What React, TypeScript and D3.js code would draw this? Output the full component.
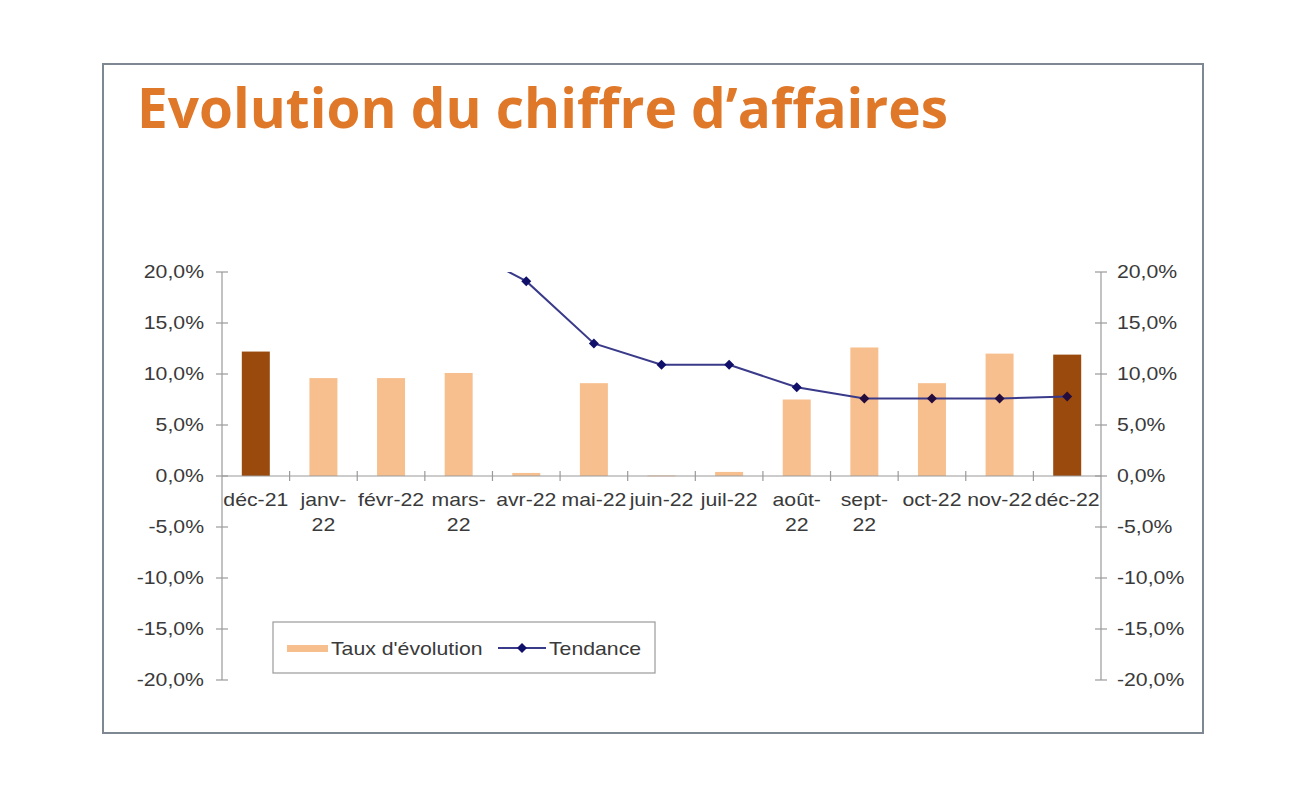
import React from "react";
import * as d3 from "d3";

const categories = ["déc-21", "janv-22", "févr-22", "mars-22", "avr-22", "mai-22", "juin-22", "juil-22", "août-22", "sept-22", "oct-22", "nov-22", "déc-22"];
const labelLines = [["déc-21"], ["janv-", "22"], ["févr-22"], ["mars-", "22"], ["avr-22"], ["mai-22"], ["juin-22"], ["juil-22"], ["août-", "22"], ["sept-", "22"], ["oct-22"], ["nov-22"], ["déc-22"]];
const taux = [12.2, 9.6, 9.6, 10.1, 0.3, 9.1, 0.05, 0.4, 7.5, 12.6, 9.1, 12.0, 11.9];
const highlighted = [true, false, false, false, false, false, false, false, false, false, false, false, true];
const tendance: (number | null)[] = [null, null, null, 22.6, 19.1, 13.0, 10.9, 10.9, 8.7, 7.6, 7.6, 7.6, 7.8];
const markerShown = [false, false, false, false, true, true, true, true, true, true, true, true, true];
const yTicks = [20, 15, 10, 5, 0, -5, -10, -15, -20];

const fmt = (v: number) => v.toFixed(1).replace(".", ",") + "%";

const font = "'Liberation Sans', Arial, sans-serif";
const textColor = "#3a3a3a";
const SX = 1.18;

function SText({ x, y, anchor = "start", size = 18, children }: { x: number; y: number; anchor?: string; size?: number; children: React.ReactNode }) {
  return (
    <g transform={`translate(${x},${y}) scale(${SX},1)`}>
      <text x={0} y={0} textAnchor={anchor as any} fontFamily={font} fontSize={size} fill={textColor}>
        {children}
      </text>
    </g>
  );
}

function Diamond({ cx, cy, r, fill }: { cx: number; cy: number; r: number; fill: string }) {
  return <path d={`M${cx},${cy - r}L${cx + r},${cy}L${cx},${cy + r}L${cx - r},${cy}Z`} fill={fill} />;
}

export default function App() {
  const W = 1300, H = 800;
  const x0 = 222, x1 = 1101;
  const x = d3.scaleBand<string>().domain(categories).range([x0, x1]).paddingInner(0).paddingOuter(0);
  const y = d3.scaleLinear().domain([-20, 20]).range([680, 272]);
  const bw = 28;
  const line = d3
    .line<number | null>()
    .defined((d) => d !== null)
    .x((_, i) => (x(categories[i]) as number) + x.bandwidth() / 2)
    .y((d) => y(d as number));
  const axisColor = "#9a9a9a";
  const lineColor = "#3A3A8A";

  return (
    <svg width={W} height={H} style={{ position: "absolute", left: 0, top: 0, background: "#fff" }}>
      <defs>
        <clipPath id="plotClip">
          <rect x={x0} y={y(20)} width={x1 - x0} height={y(-20) - y(20)} />
        </clipPath>
      </defs>
      <rect x={0} y={0} width={W} height={H} fill="#fff" />
      <rect x={103} y={64} width={1100} height={669} fill="none" stroke="#7d8893" strokeWidth={2} />
      <text x={137} y={128} fill="#E0782A" fontFamily="'Open Sans', Lato, sans-serif" fontWeight={700} fontSize={56} textLength={811} lengthAdjust="spacingAndGlyphs">
        Evolution du chiffre d’affaires
      </text>

      {/* bars */}
      {taux.map((v, i) => {
        const cx = (x(categories[i]) as number) + x.bandwidth() / 2;
        const top = y(Math.max(v, 0));
        const bot = y(Math.min(v, 0));
        return (
          <rect key={i} x={cx - bw / 2} y={top} width={bw} height={Math.max(bot - top, 0.8)} fill={highlighted[i] ? "#9A4A0C" : "#F8BF8E"} />
        );
      })}

      {/* left axis */}
      <line x1={x0} x2={x0} y1={y(20)} y2={y(-20)} stroke={axisColor} strokeWidth={1.2} />
      {yTicks.map((t) => (
        <g key={"l" + t}>
          <line x1={x0 - 6} x2={x0 + 6} y1={y(t)} y2={y(t)} stroke={axisColor} strokeWidth={1.2} />
          <SText x={204} y={y(t) + 6} anchor="end">{fmt(t)}</SText>
        </g>
      ))}
      {/* right axis */}
      <line x1={x1} x2={x1} y1={y(20)} y2={y(-20)} stroke={axisColor} strokeWidth={1.2} />
      {yTicks.map((t) => (
        <g key={"r" + t}>
          <line x1={x1 - 6} x2={x1 + 6} y1={y(t)} y2={y(t)} stroke={axisColor} strokeWidth={1.2} />
          <SText x={1117} y={y(t) + 6} anchor="start">{fmt(t)}</SText>
        </g>
      ))}
      {/* x axis at zero */}
      <line x1={x0} x2={x1} y1={y(0)} y2={y(0)} stroke={axisColor} strokeWidth={1.2} />
      {categories.slice(1).map((c) => (
        <line key={"xt" + c} x1={x(c) as number} x2={x(c) as number} y1={y(0) - 5} y2={y(0) + 5} stroke={axisColor} strokeWidth={1.2} />
      ))}
      {labelLines.map((lines, i) => {
        const cx = (x(categories[i]) as number) + x.bandwidth() / 2;
        return (
          <g key={"xl" + i}>
            {lines.map((l, j) => (
              <SText key={j} x={cx} y={506 + j * 25} anchor="middle">{l}</SText>
            ))}
          </g>
        );
      })}

      {/* line */}
      <g clipPath="url(#plotClip)">
        <path d={line(tendance) || ""} fill="none" stroke={lineColor} strokeWidth={2} />
      </g>
      {tendance.map((v, i) =>
        v !== null && markerShown[i] ? (
          <Diamond key={"m" + i} cx={(x(categories[i]) as number) + x.bandwidth() / 2} cy={y(v)} r={5} fill={i >= 9 ? "#240c3c" : "#10106a"} />
        ) : null
      )}

      {/* legend */}
      <rect x={273} y={622} width={382} height={51} fill="#fff" stroke="#9a9a9a" strokeWidth={1.2} />
      <rect x={287} y={645} width={41} height={7} fill="#F8BF8E" />
      <SText x={331} y={655}>Taux d'évolution</SText>
      <line x1={498} x2={546} y1={648} y2={648} stroke={lineColor} strokeWidth={2} />
      <Diamond cx={522} cy={648} r={5} fill="#10106a" />
      <SText x={549} y={655}>Tendance</SText>
    </svg>
  );
}
